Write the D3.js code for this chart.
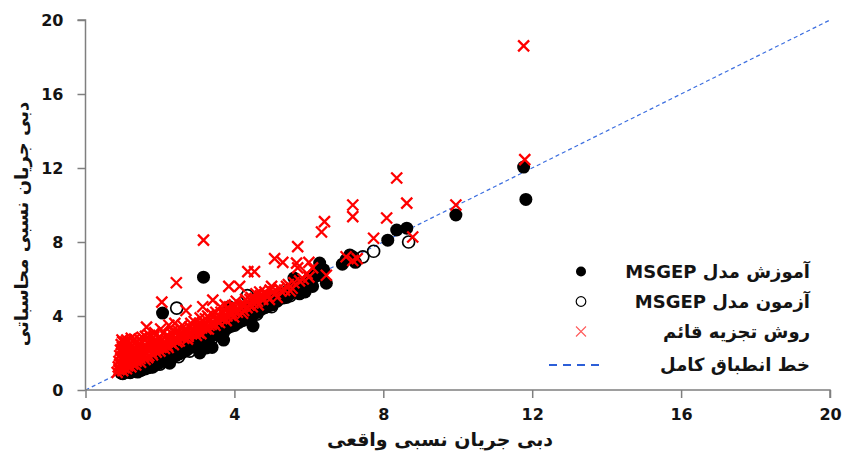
<!DOCTYPE html>
<html>
<head>
<meta charset="utf-8">
<script src="https://cdn.jsdelivr.net/npm/d3@7"></script>
<style>
  html, body { margin: 0; padding: 0; background: #fff; }
  svg { display: block; font-family: "DejaVu Sans", sans-serif; }
</style>
</head>
<body>
<svg id="chart" width="844" height="452"></svg>
<script>
// ---------- data ----------
const xTicks = [0, 4, 8, 12, 16, 20];
const yTicks = [0, 4, 8, 12, 16, 20];

// training (MSGEP) – [observed, computed]
const trainData = [
  [0.95,0.92],[1.0,1.0],[1.05,0.95],[1.1,0.98],[1.15,1.05],[1.2,0.97],[1.25,1.1],[1.3,1.0],
  [1.35,1.15],[1.4,0.97],[1.45,1.2],[1.5,1.1],[1.55,1.3],[1.6,1.2],[1.65,1.4],[1.7,1.3],
  [1.75,1.5],[1.8,1.35],[1.85,1.6],[1.9,1.5],[1.95,1.7],[2.0,1.6],[2.07,4.16],[2.1,1.8],
  [2.15,1.65],[2.2,1.95],[2.26,1.45],[2.3,2.0],[2.35,1.85],[2.4,2.15],[2.45,2.0],[2.5,2.3],
  [2.55,2.1],[2.6,2.4],[2.65,2.2],[2.7,2.5],[2.75,2.35],[2.8,2.6],[2.85,2.45],[2.9,2.75],
  [2.95,2.55],[3.0,2.85],[3.07,2.0],[3.1,2.7],[3.15,3.0],[3.17,6.1],[3.2,2.85],[3.25,2.27],
  [3.3,3.1],[3.35,2.9],[3.4,2.3],[3.45,3.25],[3.5,3.05],[3.55,3.4],[3.6,3.2],[3.65,3.5],
  [3.71,2.7],[3.75,3.4],[3.8,3.65],[3.87,4.5],[3.9,3.55],[3.95,3.8],[4.0,3.7],[4.05,4.0],
  [4.1,3.85],[4.15,4.15],[4.2,4.0],[4.3,4.25],[4.35,4.05],[4.4,4.4],[4.5,3.46],[4.5,4.25],
  [4.55,4.55],[4.6,4.4],[4.68,4.5],[4.7,4.7],[4.8,4.6],[4.9,4.85],[5.0,4.86],[5.05,4.75],
  [5.1,5.05],[5.2,4.95],[5.3,4.97],[5.35,5.25],[5.45,5.4],[5.6,6.05],[5.6,5.45],[5.75,5.2],
  [5.85,5.75],[5.9,5.3],[6.0,6.0],[6.1,5.6],[6.2,6.3],[6.29,6.86],[6.4,6.5],[6.47,5.77],
  [6.9,6.8],[7.0,7.05],[7.1,7.3],[7.18,7.2],[7.25,6.9],[8.12,8.1],[8.36,8.65],[8.63,8.75],
  [9.95,9.46],[11.77,12.05],[11.83,10.3],
  [1.0,0.9],[1.08,1.0],[1.18,1.0],[1.28,1.05],[1.38,1.1],[1.48,1.05],[1.58,1.15],[1.68,1.2],
  [1.78,1.25],[1.88,1.35],[1.98,1.45],[2.05,1.55],[2.12,1.6],[2.22,1.7],[2.32,1.75],[2.42,1.85],
  [2.52,1.95],[2.62,2.05],[2.72,2.15],[2.82,2.3],[2.92,2.35],[3.02,2.5],[3.12,2.6],[3.22,2.7],
  [3.32,2.8],[3.42,2.95],[3.52,3.0],[3.62,3.1],[3.72,3.25],[3.82,3.35],[3.92,3.45],[4.02,3.55],
  [4.12,3.65],[4.22,3.75],[4.32,3.9],[4.42,4.0],[4.52,4.1],[4.62,4.2],[4.72,4.35],[4.82,4.45],
  [4.92,4.55],[5.02,4.6],[5.15,4.8],[5.25,5.1],[5.4,5.0],[5.5,5.2],[5.7,5.6],[5.8,5.4],
  [6.05,5.8],[6.15,6.1],[6.3,6.2]
];

// testing (MSGEP)
const testData = [
  [1.0,0.9],[1.2,0.95],[1.4,1.05],[1.6,1.15],[1.8,1.25],[2.0,1.4],[2.26,1.6],[2.45,4.43],
  [2.5,1.8],[2.8,2.1],[3.1,2.4],[3.4,2.8],[3.7,3.1],[4.0,3.5],[4.35,5.1],[4.6,4.1],
  [5.0,4.5],[5.5,5.1],[5.9,5.5],[7.45,7.2],[7.74,7.5],[8.68,8.0]
];

// vertical decomposition method
const vdData = [
  [0.85,0.95],[0.88,1.25],[0.9,1.55],[0.92,1.85],[0.94,2.15],[0.96,2.45],[0.98,2.7],[1.0,1.05],
  [1.0,1.4],[1.02,1.75],[1.04,2.05],[1.06,2.35],[1.08,2.6],[1.1,1.15],[1.12,1.5],[1.14,1.9],
  [1.16,2.2],[1.2,2.5],[1.22,1.25],[1.24,1.65],[1.26,2.0],[1.3,2.3],[1.32,2.75],[1.35,1.35],
  [1.38,1.8],[1.4,2.1],[1.45,2.5],[1.48,1.5],[1.5,1.95],[1.52,2.85],[1.55,2.3],[1.6,1.65],
  [1.62,2.05],[1.64,3.4],[1.66,2.55],[1.7,1.85],[1.72,2.95],[1.76,2.2],[1.8,1.9],[1.82,2.6],
  [1.86,3.1],[1.9,2.05],[1.92,2.35],[1.96,2.8],[2.0,2.1],[2.02,3.3],[2.05,4.75],[2.08,2.5],
  [2.12,2.25],[2.16,2.9],[2.2,2.4],[2.24,3.5],[2.28,2.6],[2.32,3.05],[2.36,2.45],[2.4,3.6],
  [2.42,2.8],[2.44,5.8],[2.48,3.2],[2.52,2.65],[2.56,3.0],[2.6,3.5],[2.64,2.8],[2.7,4.3],
  [2.72,3.1],[2.76,2.9],[2.8,3.4],[2.85,3.05],[2.88,3.24],[2.92,3.7],[2.96,3.15],[3.0,3.45],
  [3.04,3.1],[3.08,3.9],[3.12,3.35],[3.15,4.5],[3.17,8.1],[3.2,3.6],[3.24,3.3],[3.28,4.0],
  [3.32,3.5],[3.36,3.8],[3.42,4.86],[3.45,3.6],[3.5,4.2],[3.54,3.7],[3.58,4.0],[3.62,4.5],
  [3.66,3.85],[3.7,4.15],[3.75,4.6],[3.8,4.0],[3.85,5.6],[3.86,4.3],[3.9,4.05],[3.95,4.55],
  [4.0,4.25],[4.05,4.8],[4.1,4.4],[4.14,5.6],[4.2,4.6],[4.25,4.3],[4.3,4.9],[4.36,6.4],
  [4.4,4.6],[4.45,5.0],[4.5,4.7],[4.54,6.4],[4.58,5.2],[4.62,4.8],[4.7,5.1],[4.76,4.9],
  [4.82,5.3],[4.9,5.05],[4.96,5.4],[5.0,5.6],[5.08,7.1],[5.1,5.2],[5.2,5.5],[5.3,6.9],
  [5.35,5.4],[5.45,5.7],[5.55,5.5],[5.67,6.86],[5.7,6.6],[5.7,7.75],[5.75,5.9],[6.0,6.1],
  [6.0,6.9],[6.1,6.6],[6.34,8.54],[6.42,9.1],[6.47,6.2],[7.0,7.2],[7.18,7.0],[7.18,9.37],
  [7.18,10.0],[7.3,7.1],[7.74,8.2],[8.09,9.3],[8.36,11.46],[8.63,10.1],[8.79,8.27],[9.95,10.0],
  [11.8,12.45],[11.77,18.6],
  [0.9,1.1],[0.92,1.4],[0.95,1.7],[0.97,2.0],[0.99,2.3],[1.0,2.6],[1.03,1.2],[1.05,1.6],
  [1.07,1.95],[1.09,2.25],[1.11,2.7],[1.13,1.3],[1.17,1.7],[1.19,2.05],[1.21,2.35],[1.23,2.8],
  [1.27,1.4],[1.29,1.75],[1.31,2.1],[1.33,2.5],[1.36,1.55],[1.39,2.0],[1.42,2.35],[1.44,2.75],
  [1.47,1.7],[1.5,2.2],[1.53,2.55],[1.56,1.8],[1.58,2.1],[1.61,2.9],[1.63,2.3],[1.67,1.75],
  [1.69,2.15],[1.73,2.5],[1.78,2.0],[1.8,2.35],[1.83,2.85],[1.87,2.15],[1.9,2.6],[1.94,2.25],
  [1.98,2.55],[2.03,2.3],[2.06,2.75],[2.1,3.1],[2.14,2.45],[2.18,2.7],[2.22,2.3],[2.26,2.85],
  [2.3,2.55],[2.34,3.2],[2.38,2.7],[2.46,2.6],[2.5,3.0],[2.54,2.85],[2.58,3.3],[2.62,2.95],
  [2.68,3.2],[2.74,2.75],[2.78,3.05],[2.83,3.6],[2.9,3.3],[2.98,2.95],[3.02,3.3],[3.06,3.6],
  [3.1,3.05],[3.18,3.45],[3.22,3.85],[3.3,3.3],[3.38,3.55],[3.4,4.1],[3.48,3.5],[3.52,3.85],
  [3.6,3.65],[3.64,4.2],[3.72,3.9],[3.78,3.75],[3.82,4.45],[3.92,4.2],[3.98,3.95],[4.02,4.5],
  [4.08,4.2],[4.16,4.5],[4.22,4.15],[4.28,4.6],[4.34,4.45],[4.42,4.9],[4.48,4.5],[4.56,4.95],
  [4.64,4.6],[4.68,5.3],[4.74,5.0],[4.86,5.1],[4.94,4.9],[5.04,5.3],[5.15,5.0],[5.25,5.35],
  [5.4,5.6],[5.5,5.35],[5.6,5.8],[5.85,6.0],[5.95,6.3]
];

const perfectLine = [[0, 0], [20, 20]];

const legendLabels = ["آموزش مدل MSGEP", "آزمون مدل MSGEP", "روش تجزیه قائم", "خط انطباق کامل"];
const xTitle = "دبی جریان نسبی واقعی";
const yTitle = "دبی جریان نسبی محاسباتی";

// ---------- chart ----------
const svg = d3.select("#chart");
const x = d3.scaleLinear().domain([0, 20]).range([85.5, 830]);
const y = d3.scaleLinear().domain([0, 20]).range([390, 20]);

const axisColor = "#7f7f7f";
const textColor = "#141414";

// perfect fit line
svg.append("path")
  .datum(perfectLine)
  .attr("d", d3.line().x(d => x(d[0])).y(d => y(d[1])))
  .attr("fill", "none")
  .attr("stroke", "#3d6fe0")
  .attr("stroke-width", 1.2)
  .attr("stroke-dasharray", "4,3");

// training: filled black circles
svg.append("g").selectAll("circle").data(trainData).join("circle")
  .attr("cx", d => x(d[0])).attr("cy", d => y(d[1]))
  .attr("r", 6.5).attr("fill", "#000");

// testing: open circles
svg.append("g").selectAll("circle").data(testData).join("circle")
  .attr("cx", d => x(d[0])).attr("cy", d => y(d[1]))
  .attr("r", 6).attr("fill", "none").attr("stroke", "#000").attr("stroke-width", 1.7);

// vertical decomposition: red x
const xs = 5.5;
svg.append("g").selectAll("path").data(vdData).join("path")
  .attr("d", d => {
    const cx = x(d[0]), cy = y(d[1]);
    return `M${cx - xs},${cy - xs}L${cx + xs},${cy + xs}M${cx - xs},${cy + xs}L${cx + xs},${cy - xs}`;
  })
  .attr("stroke", "#ff0000").attr("stroke-width", 2.3).attr("fill", "none");

// axes
const xAxis = svg.append("g").attr("transform", "translate(0,390)")
  .call(d3.axisBottom(x).tickValues(xTicks).tickSize(8).tickPadding(11).tickFormat(d3.format("d")));
const yAxis = svg.append("g").attr("transform", "translate(85.5,0)")
  .call(d3.axisLeft(y).tickValues(yTicks).tickSize(8).tickPadding(14).tickFormat(d3.format("d")));

[xAxis, yAxis].forEach(g => {
  g.select(".domain").attr("stroke", axisColor).attr("stroke-width", 1.5);
  g.selectAll(".tick line").attr("stroke", axisColor).attr("stroke-width", 1.5);
  g.selectAll(".tick text")
    .attr("fill", textColor)
    .style("font-family", "'DejaVu Sans', sans-serif")
    .style("font-size", "16px")
    .style("font-weight", "bold");
});
xAxis.select(".domain").attr("d", `M${x(0)},0H${x(20)}V8`);
yAxis.select(".domain").attr("d", `M-8,${y(20)}H0V${y(0)}`);

// axis titles
svg.append("text")
  .attr("x", 440).attr("y", 446)
  .attr("text-anchor", "middle")
  .style("direction", "rtl")
  .style("font-size", "19px").style("font-weight", "bold")
  .attr("fill", textColor)
  .text(xTitle);

svg.append("text")
  .attr("transform", "translate(28,224) rotate(-90)")
  .attr("text-anchor", "middle")
  .style("direction", "rtl")
  .style("font-size", "18px").style("font-weight", "bold")
  .attr("fill", textColor)
  .text(yTitle);

// legend
const legendRows = [271.5, 301.5, 331.5, 365];
const lg = svg.append("g");
const markerX = 581;
lg.append("circle").attr("cx", markerX).attr("cy", legendRows[0]).attr("r", 5).attr("fill", "#000");
lg.append("circle").attr("cx", markerX).attr("cy", legendRows[1]).attr("r", 4.8)
  .attr("fill", "none").attr("stroke", "#000").attr("stroke-width", 1.2);
const ls = 5;
lg.append("path")
  .attr("d", `M${markerX - ls},${legendRows[2] - ls}L${markerX + ls},${legendRows[2] + ls}M${markerX - ls},${legendRows[2] + ls}L${markerX + ls},${legendRows[2] - ls}`)
  .attr("stroke", "#ff5a5a").attr("stroke-width", 1.1);
lg.append("line")
  .attr("x1", 549).attr("x2", 604).attr("y1", legendRows[3]).attr("y2", legendRows[3])
  .attr("stroke", "#2c5fd8").attr("stroke-width", 1.8).attr("stroke-dasharray", "8,6");

lg.selectAll("text.lab").data(legendLabels).join("text")
  .attr("class", "lab")
  .attr("x", 810).attr("y", (d, i) => legendRows[i])
  .attr("dy", "0.35em")
  .attr("text-anchor", "start")
  .style("direction", "rtl")
  .style("font-size", "18px").style("font-weight", "bold")
  .attr("fill", textColor)
  .text(d => d);
</script>
</body>
</html>
